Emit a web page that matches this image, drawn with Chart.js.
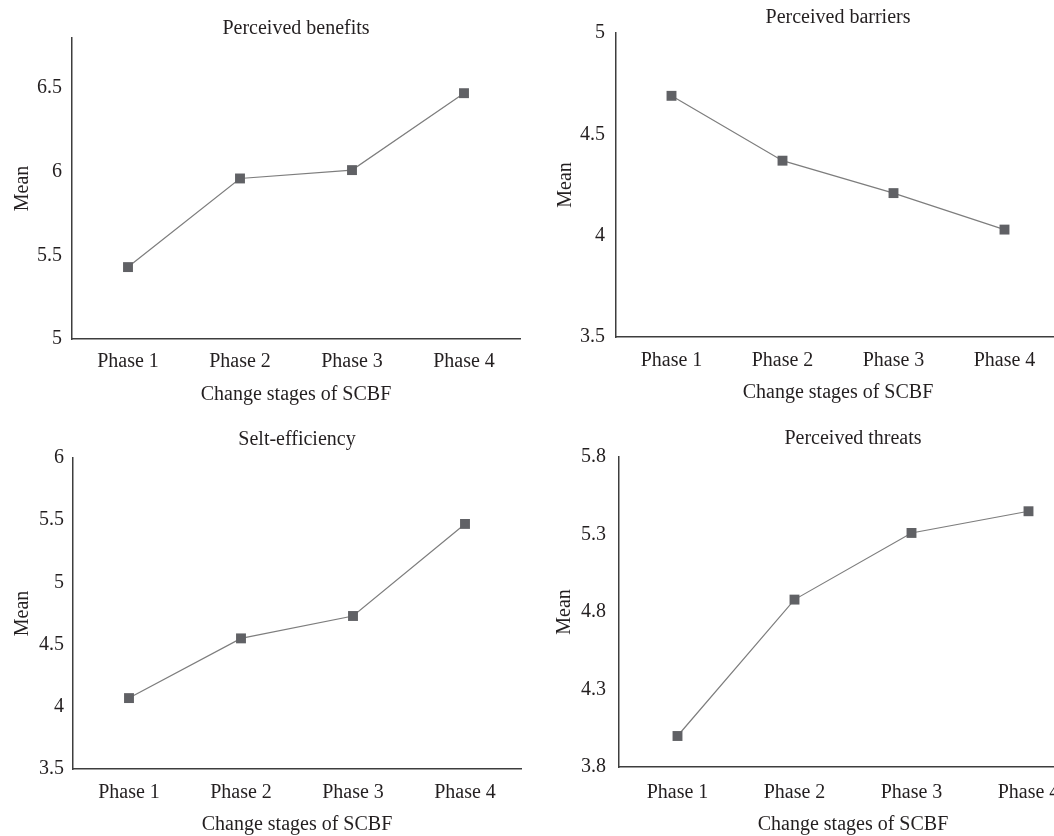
<!DOCTYPE html>
<html>
<head>
<meta charset="utf-8">
<script src="https://cdn.jsdelivr.net/npm/chart.js@4"></script>
<style>
  html, body { margin: 0; padding: 0; background: #ffffff; }
  #wrap { position: relative; width: 1054px; height: 836px; overflow: hidden; background: #fff; }
  #wrap canvas { position: absolute; }
</style>
</head>
<body>
<div id="wrap">
  <canvas id="c1" width="580" height="418" style="left:0px;top:0px;"></canvas>
  <canvas id="c2" width="634" height="418" style="left:527px;top:0px;"></canvas>
  <canvas id="c3" width="594" height="418" style="left:0px;top:418px;"></canvas>
  <canvas id="c4" width="650" height="418" style="left:527px;top:418px;"></canvas>
</div>
<script>
// ---- data ----
const categories = ['Phase 1', 'Phase 2', 'Phase 3', 'Phase 4'];
const xAxisTitle = 'Change stages of SCBF';
const yAxisTitle = 'Mean';

const benefitsTitle = 'Perceived benefits';
const benefitsValues = [5.43, 5.96, 6.01, 6.47];
const benefitsRange = [5, 6.8];
const benefitsTicks = [5, 5.5, 6, 6.5];

const barriersTitle = 'Perceived barriers';
const barriersValues = [4.69, 4.37, 4.21, 4.03];
const barriersRange = [3.5, 5];
const barriersTicks = [3.5, 4, 4.5, 5];

const efficiencyTitle = 'Selt-efficiency';
const efficiencyValues = [4.07, 4.55, 4.73, 5.47];
const efficiencyRange = [3.5, 6];
const efficiencyTicks = [3.5, 4, 4.5, 5, 5.5, 6];

const threatsTitle = 'Perceived threats';
const threatsValues = [4.00, 4.88, 5.31, 5.45];
const threatsRange = [3.8, 5.8];
const threatsTicks = [3.8, 4.3, 4.8, 5.3, 5.8];

// ---- styling ----
const FONT = '"Liberation Serif", "Times New Roman", serif';
const TEXT = '#231f20';
const LINE = '#7d7d7d';
const MARK = '#606165';
const AXIS = '#3e3e3e';

function makePanel(id, title, values, range, ticks, g) {
  new Chart(document.getElementById(id), {
    type: 'line',
    data: {
      labels: categories,
      datasets: [{
        data: values,
        borderColor: LINE,
        borderWidth: 1.2,
        pointStyle: 'rect',
        pointRadius: 7,
        pointHoverRadius: 7,
        pointBorderWidth: 0,
        pointBackgroundColor: MARK,
        pointBorderColor: MARK,
        tension: 0,
        fill: false
      }]
    },
    options: {
      responsive: false,
      animation: false,
      devicePixelRatio: 1,
      layout: { padding: { left: 0, right: g.padRight, top: 0, bottom: 0 } },
      plugins: {
        legend: { display: false },
        tooltip: { enabled: false },
        title: {
          display: true,
          fullSize: false,
          text: title,
          color: TEXT,
          font: { family: FONT, size: 20, weight: 'normal' },
          padding: { top: g.titleTop, bottom: g.titleBottom }
        }
      },
      scales: {
        x: {
          type: 'category',
          offset: true,
          grid: { display: false, drawTicks: false },
          border: { display: true, color: AXIS, width: 1.5 },
          ticks: { color: TEXT, font: { family: FONT, size: 20 }, padding: g.xTickPad, maxRotation: 0, autoSkip: false },
          title: { display: true, text: xAxisTitle, color: TEXT, font: { family: FONT, size: 20 }, padding: { top: 0, bottom: g.xTitleBottom } },
          afterFit: (s) => { s.height = g.xAxisH; }
        },
        y: {
          type: 'linear',
          min: range[0],
          max: range[1],
          grid: { display: false, drawTicks: false },
          border: { display: true, color: AXIS, width: 1.5 },
          ticks: {
            color: TEXT,
            font: { family: FONT, size: 20 },
            padding: g.yTickPad,
            callback: (v) => String(Math.round(v * 10) / 10)
          },
          afterBuildTicks: (s) => { s.ticks = ticks.map(v => ({ value: v })); },
          title: { display: true, text: yAxisTitle, color: TEXT, font: { family: FONT, size: 20 }, padding: { top: g.yTitleTop, bottom: 0 } },
          afterFit: (s) => { s.width = g.yAxisW; }
        }
      }
    }
  });
}

makePanel('c1', benefitsTitle, benefitsValues, benefitsRange, benefitsTicks,
  { padRight: 60, titleTop: 16.5, titleBottom: -2.5, xAxisH: 79, xTickPad: 11, xTitleBottom: 11, yAxisW: 72, yTickPad: 10, yTitleTop: 10.5 });
makePanel('c2', barriersTitle, barriersValues, barriersRange, barriersTicks,
  { padRight: 101, titleTop: 6, titleBottom: 3, xAxisH: 81, xTickPad: 11.5, xTitleBottom: 13.5, yAxisW: 89, yTickPad: 11, yTitleTop: 27 });
makePanel('c3', efficiencyTitle, efficiencyValues, efficiencyRange, efficiencyTicks,
  { padRight: 73, titleTop: 10, titleBottom: 6, xAxisH: 67, xTickPad: 12, xTitleBottom: -1, yAxisW: 73, yTickPad: 9, yTitleTop: 10.5 });
makePanel('c4', threatsTitle, threatsValues, threatsRange, threatsTicks,
  { padRight: 90, titleTop: 9, titleBottom: 6, xAxisH: 69, xTickPad: 13.5, xTitleBottom: -1, yAxisW: 92, yTickPad: 13, yTitleTop: 26 });
</script>
</body>
</html>
